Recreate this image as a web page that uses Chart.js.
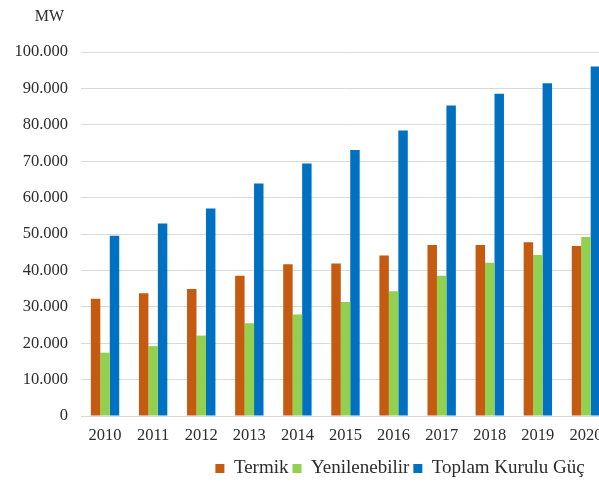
<!DOCTYPE html>
<html>
<head>
<meta charset="utf-8">
<script src="https://cdn.jsdelivr.net/npm/chart.js@4"></script>
<style>
  html, body { margin: 0; padding: 0; background: #fff; overflow: hidden; }
  #wrap { width: 599px; height: 489px; overflow: hidden; }
</style>
</head>
<body>
<div id="wrap"><canvas id="chart" width="800" height="489"></canvas></div>
<script>
const years = ['2010', '2011', '2012', '2013', '2014', '2015', '2016', '2017', '2018', '2019', '2020'];
const termik = [32200, 33700, 34900, 38500, 41700, 41900, 44100, 47000, 47000, 47700, 46700];
const yenilenebilir = [17400, 19200, 22100, 25500, 27900, 31300, 34300, 38500, 42100, 44200, 49200];
const toplam = [49500, 52900, 57000, 63900, 69400, 73100, 78400, 85300, 88500, 91400, 96000];
const yTicks = ['0', '10.000', '20.000', '30.000', '40.000', '50.000', '60.000', '70.000', '80.000', '90.000', '100.000'];
const unit = 'MW';

const textColor = '#2b2b2b';
const family = "'Liberation Serif', 'Times New Roman', serif";
const tickFont = { family: family, size: 16.5 };
const legendFont = { family: family, size: 19 };

// unit caption above the value axis
const unitLabel = {
    id: 'unitLabel',
    afterDraw(chart) {
        const ctx = chart.ctx;
        const y = chart.scales.y;
        ctx.save();
        ctx.font = `16px ${family}`;
        ctx.fillStyle = textColor;
        ctx.textAlign = 'right';
        ctx.textBaseline = 'middle';
        ctx.fillText(unit, y.right - 17, 17);
        ctx.restore();
    }
};

const ctx = document.getElementById('chart').getContext('2d');
const myChart = new Chart(ctx, {
    type: 'bar',
    data: {
        labels: years,
        datasets: [{
            label: 'Termik',
            data: termik,
            backgroundColor: '#C55A11',
            borderWidth: 0
        }, {
            label: 'Yenilenebilir',
            data: yenilenebilir,
            backgroundColor: '#92D050',
            borderWidth: 0
        }, {
            label: 'Toplam Kurulu Güç',
            data: toplam,
            backgroundColor: '#0070C0',
            borderWidth: 0
        }]
    },
    options: {
        responsive: false,
        animation: false,
        categoryPercentage: 0.59,
        barPercentage: 1,
        layout: { padding: { top: 52, left: 0, right: 0, bottom: 1 } },
        plugins: {
            legend: {
                position: 'bottom',
                labels: {
                    boxWidth: 9,
                    boxHeight: 9,
                    padding: 4,
                    color: textColor,
                    font: legendFont
                }
            },
            tooltip: { enabled: false }
        },
        scales: {
            x: {
                grid: { display: false, drawTicks: false },
                border: { display: false },
                ticks: { color: textColor, font: tickFont, padding: 10, maxRotation: 0, autoSkip: false },
                afterFit: s => { s.height = 39; }
            },
            y: {
                min: 0,
                max: 100000,
                grid: { color: '#d9d9d9', drawTicks: false },
                border: { display: false },
                ticks: {
                    stepSize: 10000,
                    color: textColor,
                    font: tickFont,
                    padding: 13,
                    callback: (v, i) => yTicks[i]
                },
                afterFit: s => { s.width = 81; }
            },
            // empty axis on the right keeps the plot narrower than the legend row
            spacer: {
                type: 'linear',
                position: 'right',
                grid: { display: false },
                border: { display: false },
                ticks: { display: false },
                afterFit: s => { s.width = 190; }
            }
        }
    },
    plugins: [unitLabel]
});
</script>
</body>
</html>
